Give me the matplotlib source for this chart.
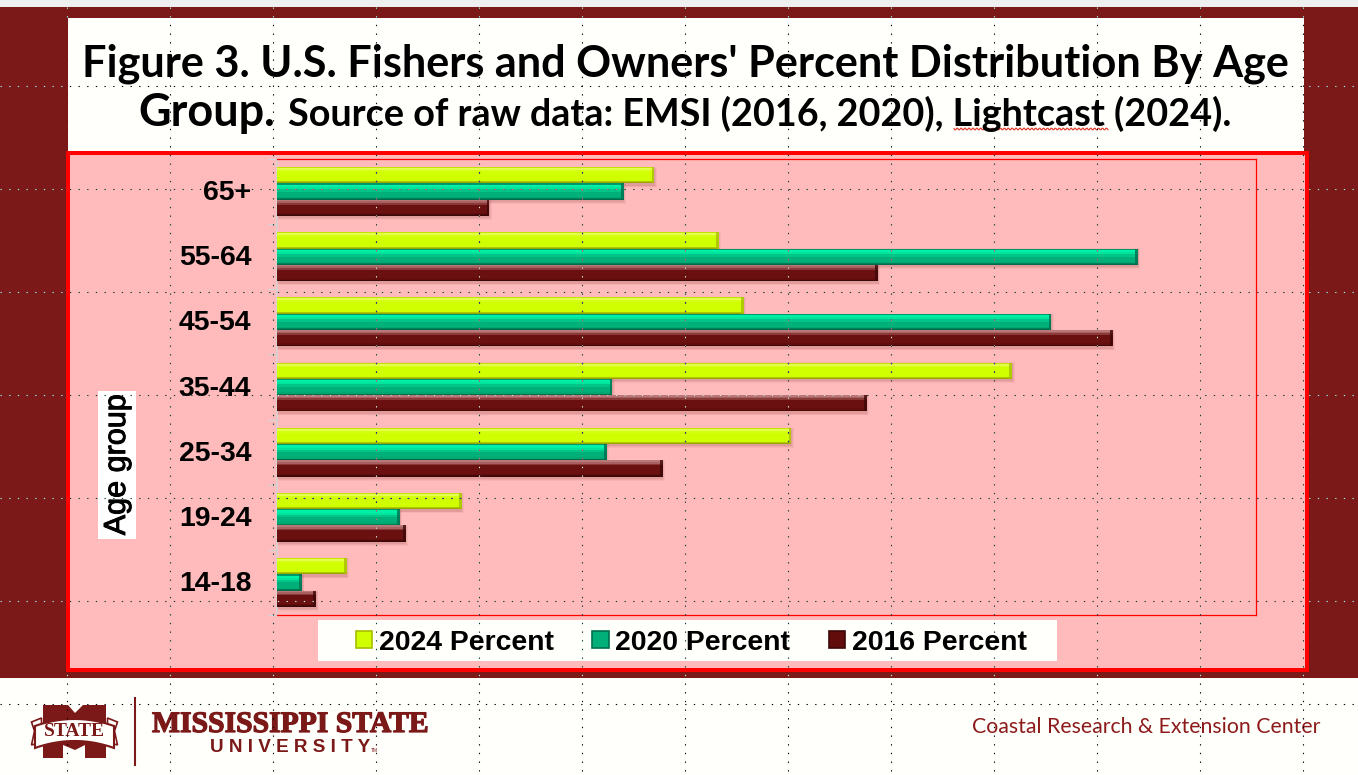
import numpy as np
import matplotlib
matplotlib.use("Agg")
import matplotlib.pyplot as plt
import matplotlib.patheffects as pe
from matplotlib.patches import Rectangle, Polygon
from matplotlib.transforms import ScaledTranslation

# ---- data (bottom to top) ----
age_groups = ["14-18", "19-24", "25-34", "35-44", "45-54", "55-64", "65+"]
pct_2024 = [2.5, 6.6, 18.4, 26.3, 16.7, 15.8, 13.5]
pct_2020 = [0.9, 4.4, 11.8, 12.0, 27.7, 30.8, 12.4]
pct_2016 = [1.4, 4.6, 13.8, 21.1, 29.9, 21.5, 7.6]
series_names = ["2024 Percent", "2020 Percent", "2016 Percent"]
x_max = 35

W, H = 1358, 775
MAROON = "#7B1818"
PINK = "#FFBBBB"
RED = "#FF0000"
PAPER = "#FFFFFC"

fig = plt.figure(figsize=(W / 100, H / 100), dpi=100, facecolor=PAPER)

# ---- page background, in pixel coordinates ----
bg = fig.add_axes([0, 0, 1, 1], zorder=0)
bg.set_xlim(0, W); bg.set_ylim(H, 0); bg.axis("off")
bg.add_patch(Rectangle((0, 0), W, 7, fc="#EFEFEF", ec="none"))
bg.add_patch(Rectangle((0, 7), W, 671, fc=MAROON, ec="none"))
bg.add_patch(Rectangle((68, 18), 1236, 134, fc=PAPER, ec="none"))
bg.add_patch(Rectangle((68, 152.5), 1239, 517, fc=PINK, ec=RED, lw=2.9))
bg.add_patch(Rectangle((318, 620), 739, 41, fc=PAPER, ec="none"))

# ---- title ----
renderer = fig.canvas.get_renderer()
def fit(txt, width):
    w = txt.get_window_extent(renderer).width
    txt.set_fontsize(txt.get_fontsize() * width / w)
    return txt
TF = "Lato"
fit(bg.text(82, 76, "Figure 3. U.S. Fishers and Owners' Percent Distribution By Age",
            fontfamily=TF, fontweight="bold", fontsize=29, color="black", va="baseline"), 1208)
fit(bg.text(138, 126, "Group.", fontfamily=TF, fontweight="bold", fontsize=29,
            color="black", va="baseline"), 137)
fit(bg.text(288, 126, "Source of raw data: EMSI (2016, 2020), Lightcast (2024).",
            fontfamily=TF, fontweight="bold", fontsize=24, color="black", va="baseline"), 944)
sx = np.arange(954, 1109, 1.0)
bg.plot(sx, 129 + 1.0 * np.sin(sx * 1.6), color="#E03020", lw=0.8)

# ---- footer and logo ----
fit(bg.text(972, 733, "Coastal Research & Extension Center", fontfamily="Lato",
            fontsize=14.2, color="#8E1B1B", va="baseline"), 348)
bg.plot([135, 135], [698, 765], color=MAROON, lw=1.5)
m_x = [43, 68, 75, 83, 106, 106, 85, 85, 75, 63, 63, 43]
m_y = [705, 705, 713, 705, 705, 758, 758, 745, 750, 745, 758, 758]
bg.add_patch(Polygon(np.c_[m_x, m_y], fc=MAROON, ec="none"))
for sgn in (-1, 1):
    bg.add_patch(Polygon([(74.5 + sgn * 33, 718), (74.5 + sgn * 43, 722), (74.5 + sgn * 40, 731),
                          (74.5 + sgn * 43, 745), (74.5 + sgn * 33, 742)],
                         fc=PAPER, ec=MAROON, lw=1.2))
tx = np.linspace(35, 114, 30)
arch = 719 + ((tx - 74.5) / 39.5) ** 2 * 7
band = np.r_[np.c_[tx, arch], np.c_[tx[::-1], arch[::-1] + 22]]
bg.add_patch(Polygon(band, fc=PAPER, ec=MAROON, lw=1.5))
bg.text(74.5, 731.5, "STATE", fontfamily="Liberation Serif", fontweight="bold", fontsize=14,
        color=MAROON, ha="center", va="center")
fit(bg.text(152, 732, "MISSISSIPPI STATE", fontfamily="Liberation Serif", fontweight="bold",
            fontsize=17, color=MAROON, va="baseline",
            path_effects=[pe.withStroke(linewidth=0.9, foreground=MAROON)]), 276)
fit(bg.text(210, 752, "U N I V E R S I T Y", fontfamily="Liberation Sans", fontweight="bold",
            fontsize=10, color=MAROON, va="baseline"), 160)
bg.text(371, 752, "TM", fontfamily="Liberation Sans", fontsize=3.5, color=MAROON, va="baseline")

# ---- chart ----
L, T, R, B = 277, 159, 1255.5, 615
ax = fig.add_axes([L / W, 1 - B / H, (R - L) / W, (B - T) / H], zorder=1)
ax.patch.set_alpha(0)
ax.set_xlim(0, x_max)
ax.set_ylim(-0.5, len(age_groups) - 0.5)
ypos = np.arange(len(age_groups))
BH = 0.25

ramps = {
    "2024 Percent": [(0.00, "#C4E400"), (0.06, "#E4FF50"), (0.18, "#D4FF10"), (0.30, "#CFFF00"),
                     (0.82, "#CFFF00"), (0.88, "#AFC800"), (0.94, "#96A800")],
    "2020 Percent": [(0.00, "#009868"), (0.08, "#00F0A8"), (0.22, "#00E49C"), (0.34, "#00C488"),
                     (0.50, "#00B078"), (0.82, "#00A870"), (0.90, "#008058"), (0.95, "#006A4A")],
    "2016 Percent": [(0.00, "#B87878"), (0.10, "#A86060"), (0.20, "#8A3838"), (0.30, "#6A1010"),
                     (0.82, "#620C0C"), (0.90, "#4A0A0A"), (0.95, "#3A0808")],
}
edge_dark = {"2024 Percent": "#A8BE00", "2020 Percent": "#007050", "2016 Percent": "#3E0808"}
face = {"2024 Percent": "#CFFF00", "2020 Percent": "#00B078", "2016 Percent": "#620C0C"}

bars = {}
for name, vals, off in zip(series_names, [pct_2024, pct_2020, pct_2016], [BH, 0, -BH]):
    y = ypos + off
    # soft drop shadow
    for grow, a in [(0.08, 0.07), (0.05, 0.09), (0.02, 0.11)]:
        ax.barh(y - 0.03, np.array(vals) + grow, height=BH + grow * 0.8, color="#904040",
                alpha=a, lw=0, zorder=2)
    bars[name] = ax.barh(y, vals, height=BH, color=face[name], lw=0, zorder=3, label=name)
    stops = ramps[name]
    for i, (f0, c) in enumerate(stops):
        f1 = stops[i + 1][0] if i + 1 < len(stops) else 1.0
        ax.barh(y + BH / 2 - BH * (f0 + f1) / 2, vals, height=BH * (f1 - f0), color=c, lw=0, zorder=4)
    # bevelled right end
    cap = 0.10
    ax.barh(y, [cap] * len(vals), left=np.array(vals) - cap, height=BH, color=edge_dark[name],
            lw=0, zorder=5, alpha=0.8)

for s in ax.spines.values():
    s.set_color(RED); s.set_linewidth(0.9)
ax.spines["left"].set_color("#D4D4D4")
ax.spines["left"].set_linewidth(1.1)
ax.set_xticks([])
ax.set_yticks(ypos, age_groups, fontfamily="Liberation Sans", fontweight="bold", fontsize=20.4, color="black")
ax.set_yticks(np.arange(len(age_groups) + 1) - 0.5, minor=True)
ax.tick_params(axis="y", which="major", length=0, pad=18.5)
ax.tick_params(axis="y", which="minor", length=6.5, width=0.9, color="#D4D4D4")
up = ScaledTranslation(0, 1.5 / 100, fig.dpi_scale_trans)
for lab in ax.get_yticklabels():
    lab.set_transform(lab.get_transform() + up)

ax.set_ylabel("Age group", fontfamily="Liberation Sans", fontsize=22, color="black", va="center",
              ha="center", bbox=dict(fc="white", ec="none", boxstyle="square,pad=0.13"),
              path_effects=[pe.withStroke(linewidth=0.7, foreground="black")])
ax.yaxis.set_label_coords((117 - L) / (R - L), (B - 465) / (B - T))

handles = [Rectangle((0, 0), 1, 1, fc=face[n], ec=edge_dark[n], lw=1.2) for n in series_names]
fig.legend(handles, series_names, loc="center left", bbox_to_anchor=(356 / W, 1 - 642.5 / H),
           ncol=3, frameon=False, borderaxespad=0, borderpad=0, handlelength=0.58, handleheight=0.58,
           handletextpad=0.22, columnspacing=1.37,
           prop=dict(family="Liberation Sans", weight="bold", size=20.4))

# ---- PowerPoint drawing guides (dotted) on top of everything ----
ov = fig.add_axes([0, 0, 1, 1], zorder=3)
ov.set_xlim(0, W); ov.set_ylim(H, 0); ov.axis("off"); ov.patch.set_alpha(0)
guide_x = np.arange(67, W, 103)
guide_y = np.arange(86, H, 103)
DASH = (1.2, 6.6)

def guides(color, rects):
    for (x0, y0, x1, y1) in rects:
        clip = Rectangle((x0, y0), x1 - x0, y1 - y0, transform=ov.transData)
        for gx in guide_x:
            l, = ov.plot([gx, gx], [7, H], color=color, lw=0.8, dashes=DASH, dash_capstyle="butt")
            l.set_clip_path(clip)
        for gy in guide_y:
            l, = ov.plot([0, W], [gy, gy], color=color, lw=0.8, dashes=DASH, dash_capstyle="butt")
            l.set_clip_path(clip)

guides("#8FF5E6", [(0, 7, 66, 678), (1308, 7, W, 678), (66, 7, 1308, 18), (66, 671, 1308, 678)])
guides("#0B3B36", [(70, 154, 1306, 669)])
guides("#000000", [(68, 18, 1304, 150), (0, 678, W, H)])
fig.canvas.draw()
inv = ov.transData.inverted()
for name, col in zip(series_names, ["#2020A0", "#E06A80", "#F0E8E0"]):
    rects = []
    for p in bars[name]:
        e = p.get_window_extent()
        (a, b), (c, d) = inv.transform([(e.x0, e.y0), (e.x1, e.y1)])
        rects.append((a, min(b, d), c, max(b, d)))
    guides(col, rects)

fig.savefig("out.png", dpi=100, facecolor=PAPER)
